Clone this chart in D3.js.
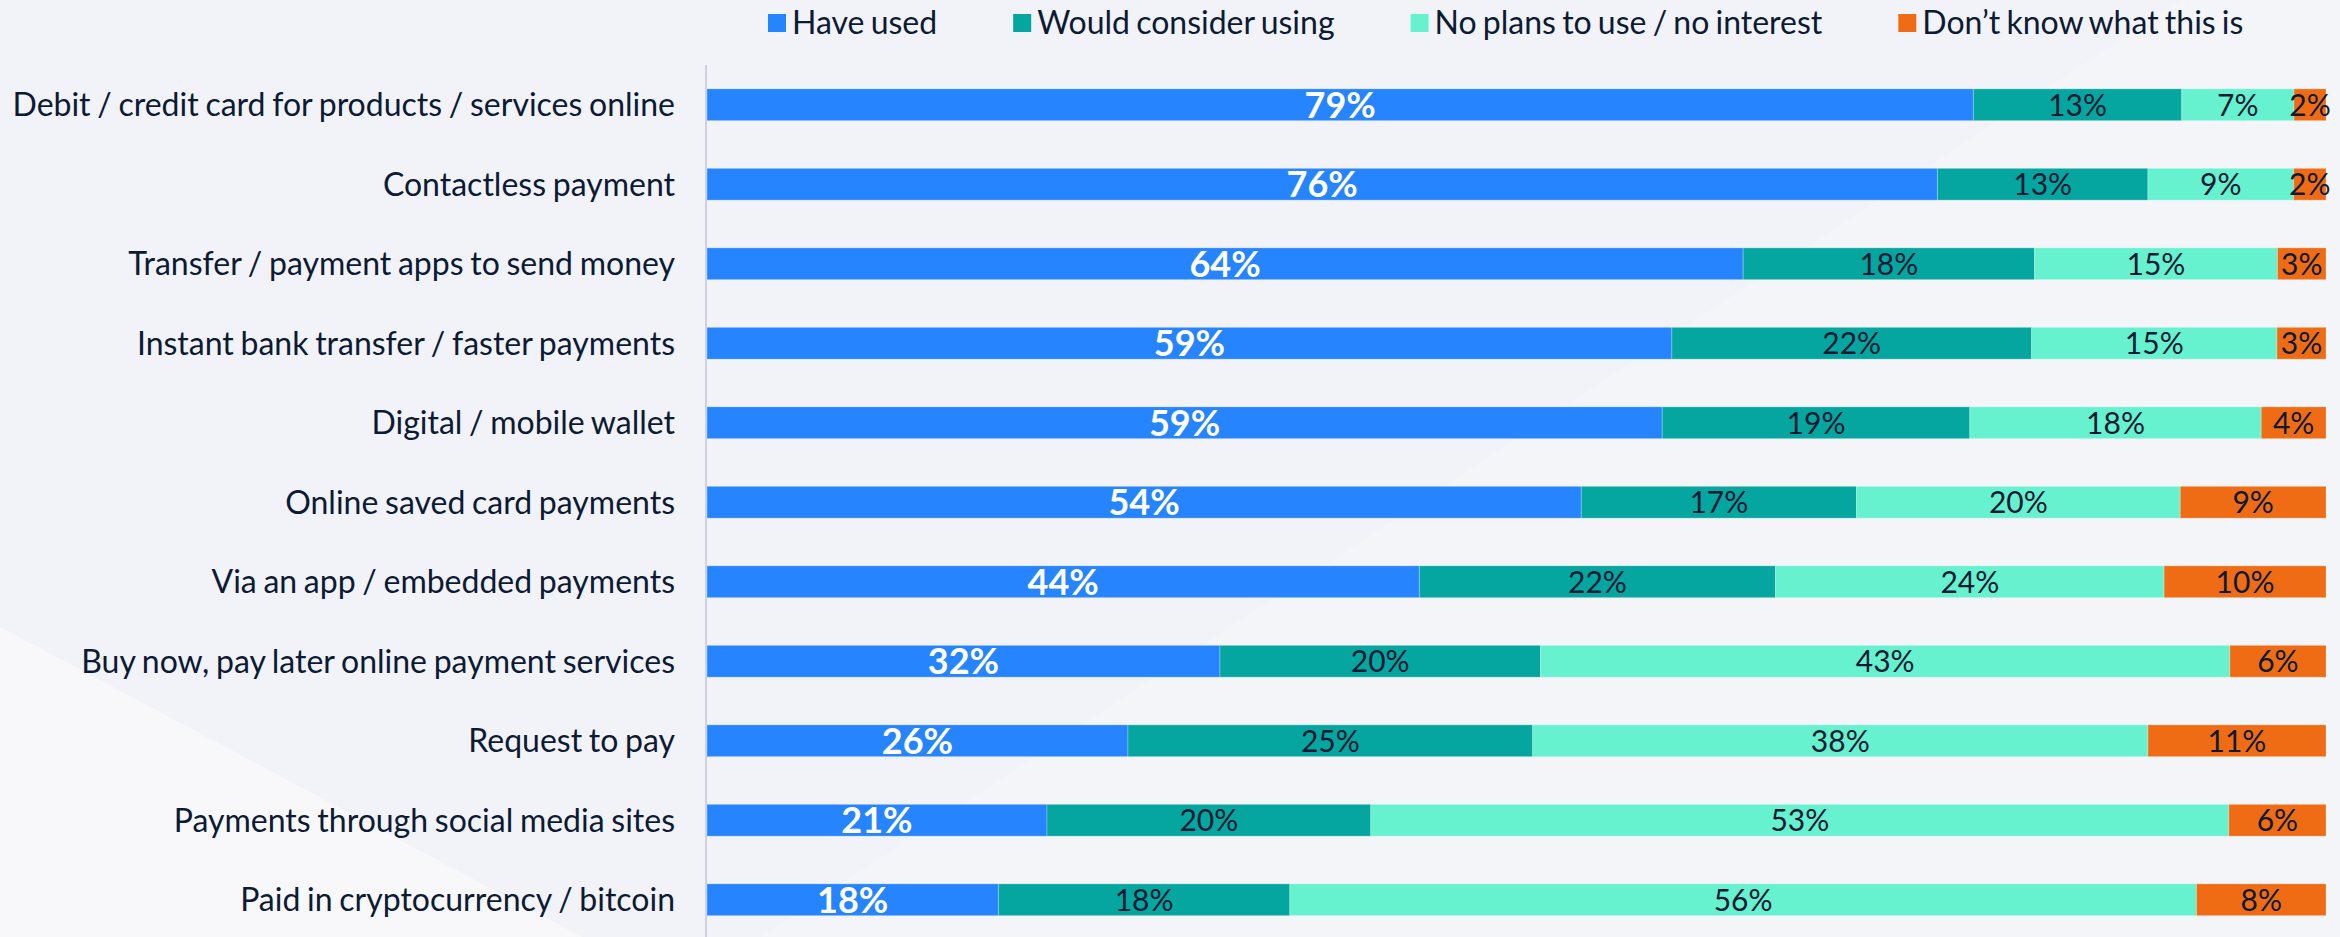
<!DOCTYPE html>
<html>
<head>
<meta charset="utf-8">
<script src="https://cdn.jsdelivr.net/npm/d3@7"></script>
<style>
  html, body { margin: 0; padding: 0; background: #f2f3f8; }
  svg { display: block; font-family: Lato, "Open Sans", sans-serif; }
  .cat-label { fill: #0c1a33; font-size: 32px; word-spacing: -1.5px; }
  .legend-label { fill: #0c1a33; font-size: 32px; word-spacing: -2px; }
  .val-label { font-size: 30px; fill: #0c1a33; }
  .val-label.first { fill: #ffffff; font-weight: 700; font-size: 36px; }
</style>
</head>
<body>
<div id="chart"></div>
<script>
// categories, top to bottom
const categories = [
  "Debit / credit card for products / services online",
  "Contactless payment",
  "Transfer / payment apps to send money",
  "Instant bank transfer / faster payments",
  "Digital / mobile wallet",
  "Online saved card payments",
  "Via an app / embedded payments",
  "Buy now, pay later online payment services",
  "Request to pay",
  "Payments through social media sites",
  "Paid in cryptocurrency / bitcoin"
];

const seriesNames = ["Have used", "Would consider using", "No plans to use / no interest", "Don\u2019t know what this is"];

// percentages as shown on the bars
const haveUsed      = [79, 76, 64, 59, 59, 54, 44, 32, 26, 21, 18];
const wouldConsider = [13, 13, 18, 22, 19, 17, 22, 20, 25, 20, 18];
const noPlans       = [ 7,  9, 15, 15, 18, 20, 24, 43, 38, 53, 56];
const dontKnow      = [ 2,  2,  3,  3,  4,  9, 10,  6, 11,  6,  8];

const colors = ["#2684fe", "#05a5a0", "#66f2cf", "#f06c14"];

const W = 2340, H = 937;
const margin = { top: 65, right: 14, bottom: 0, left: 707 };

// build rows for the stack
const rows = categories.map((c, i) => ({
  cat: c,
  [seriesNames[0]]: haveUsed[i],
  [seriesNames[1]]: wouldConsider[i],
  [seriesNames[2]]: noPlans[i],
  [seriesNames[3]]: dontKnow[i]
}));

// each row is scaled to fill 100% (rounded labels may add to 99 or 101)
const stacked = d3.stack()
  .keys(seriesNames)
  .offset(d3.stackOffsetExpand)(rows);

const svg = d3.select("#chart").append("svg")
  .attr("width", W)
  .attr("height", H);

// background shading
svg.append("rect").attr("width", W).attr("height", H).attr("fill", "#f2f3f8");
svg.append("polygon")
  .attr("points", "0,627 582,937 0,937")
  .attr("fill", "#f8f8fb");
svg.append("polygon")
  .attr("points", "761,937 2181,0 2340,0 2340,937")
  .attr("fill", "#f4f5f9");

const x = d3.scaleLinear()
  .domain([0, 1])
  .range([margin.left, W - margin.right]);

const y = d3.scaleBand()
  .domain(categories)
  .range([margin.top, 939.5])
  .paddingInner(0.6)
  .paddingOuter(0.3);

// bars
const layers = svg.selectAll("g.layer")
  .data(stacked)
  .join("g")
  .attr("class", "layer")
  .attr("fill", (d, i) => colors[i]);

layers.selectAll("rect")
  .data(d => d)
  .join("rect")
  .attr("x", d => x(d[0]))
  .attr("y", d => y(d.data.cat))
  .attr("width", d => x(d[1]) - x(d[0]))
  .attr("height", y.bandwidth())
  .attr("stroke", "#ffffff")
  .attr("stroke-opacity", 0.25)
  .attr("stroke-width", 1);

// value labels
layers.each(function(layer, li) {
  d3.select(this).selectAll("text")
    .data(layer)
    .join("text")
    .attr("class", li === 0 ? "val-label first" : "val-label")
    .attr("x", d => (x(d[0]) + x(d[1])) / 2)
    .attr("y", d => y(d.data.cat) + y.bandwidth() / 2)
    .attr("dy", "0.36em")
    .attr("text-anchor", "middle")
    .text(d => d.data[layer.key] + "%");
});

// y axis: just the vertical rule and the category names
svg.append("line")
  .attr("x1", margin.left - 1).attr("x2", margin.left - 1)
  .attr("y1", margin.top).attr("y2", H)
  .attr("stroke", "#c3c7d6")
  .attr("stroke-width", 1.5);

svg.append("g")
  .selectAll("text")
  .data(categories)
  .join("text")
  .attr("class", "cat-label")
  .attr("x", 675)
  .attr("y", d => y(d) + y.bandwidth() / 2)
  .attr("dy", "0.36em")
  .attr("text-anchor", "end")
  .text(d => d);

// legend
const legend = svg.append("g").attr("transform", "translate(768,0)");
let lx = 0;
seriesNames.forEach((name, i) => {
  const g = legend.append("g").attr("transform", `translate(${lx},0)`);
  g.append("rect")
    .attr("x", 0).attr("y", 14)
    .attr("width", 18).attr("height", 18)
    .attr("fill", colors[i]);
  const t = g.append("text")
    .attr("class", "legend-label")
    .attr("x", 24)
    .attr("y", 34)
    .text(name);
  lx += 24 + t.node().getComputedTextLength() + 76;
});
</script>
</body>
</html>
